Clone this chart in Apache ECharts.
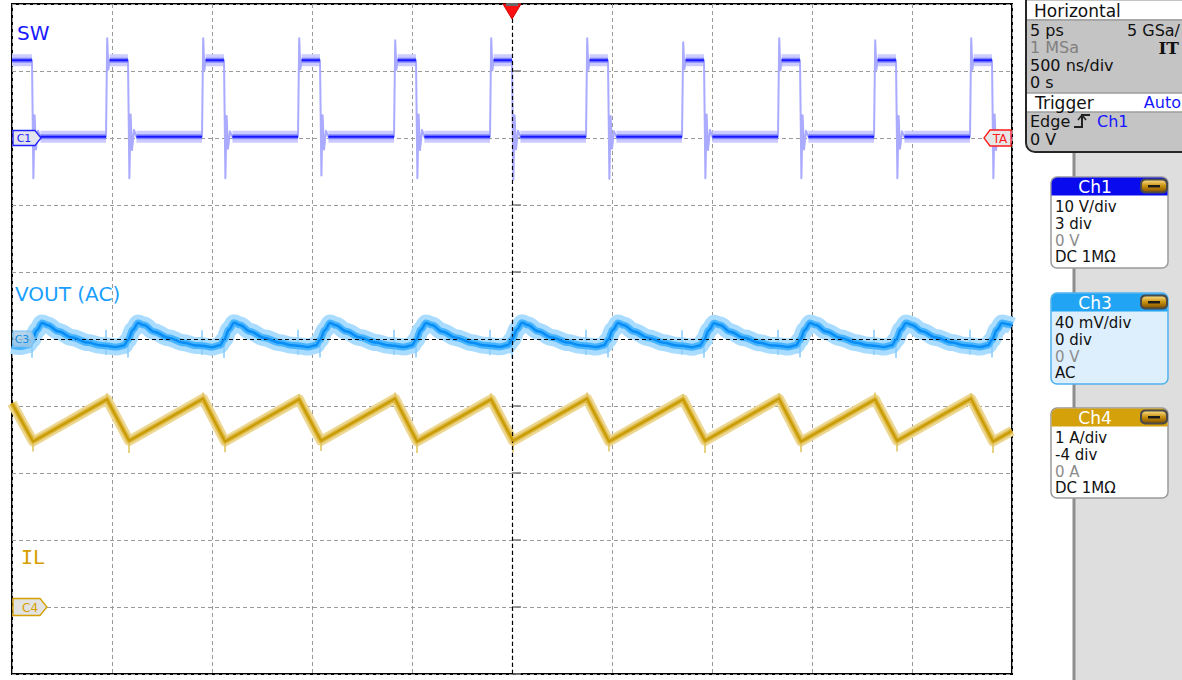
<!DOCTYPE html>
<html>
<head>
<meta charset="utf-8">
<script src="https://cdn.jsdelivr.net/npm/echarts/dist/echarts.min.js"></script>
<style>
html,body{margin:0;padding:0;background:#fff;}
#c{width:1182px;height:680px;}
</style>
</head>
<body>
<div id="c"></div>
<script>
// ================= DATA =================
// Time axis: 500 ns/div, 10 divisions, trigger at 0
const timeMinNs = -2500, timeMaxNs = 2500, timeDivNs = 500;

// Channel scales (value range of the 10-div screen for each channel)
const ch1RangeV  = [-80, 20];    // 10 V/div, offset 3 div
const ch3RangeMv = [-200, 200];  // 40 mV/div, offset 0 div
const ch4RangeA  = [-1, 9];      // 1 A/div, offset -4 div

// SW (Ch1) trace: [time ns, volts]
const swTrace = [
  [-2500,11.6],
  [-2400,11.6],[-2393,-6.0],[-2387,3.4],[-2380,-1.7],[-2370,1.1],[-2358,0.2],
  [-2030,0.2],[-2024,14.9],[-2018,10.2],[-2012,11.6],
  [-1920,11.6],[-1913,-6.0],[-1907,3.5],[-1900,-1.8],[-1890,1.2],[-1878,0.2],
  [-1550,0.2],[-1544,14.9],[-1538,10.1],[-1532,11.6],
  [-1440,11.6],[-1433,-6.0],[-1427,3.3],[-1420,-1.6],[-1410,1.0],[-1398,0.2],
  [-1070,0.2],[-1064,14.9],[-1058,10.3],[-1052,11.6],
  [-960,11.6],[-953,-5.6],[-947,3.4],[-940,-1.7],[-930,1.1],[-918,0.2],
  [-590,0.2],[-584,14.6],[-578,10.2],[-572,11.6],
  [-480,11.6],[-473,-6.0],[-467,3.5],[-460,-1.8],[-450,1.2],[-438,0.2],
  [-110,0.2],[-104,14.9],[-98,10.1],[-92,11.6],
  [0,11.6],[7,-6.2],[13,3.4],[20,-1.7],[30,1.1],[42,0.2],
  [370,0.2],[376,14.9],[382,10.2],[388,11.6],
  [480,11.6],[487,-6.1],[493,3.3],[500,-1.6],[510,1.0],[522,0.2],
  [850,0.2],[856,14.3],[862,10.3],[868,11.6],
  [960,11.6],[967,-6.0],[973,3.5],[980,-1.8],[990,1.2],[1002,0.2],
  [1330,0.2],[1336,14.9],[1342,10.1],[1348,11.6],
  [1440,11.6],[1447,-6.0],[1453,3.4],[1460,-1.7],[1470,1.1],[1482,0.2],
  [1810,0.2],[1816,14.6],[1822,10.2],[1828,11.6],
  [1920,11.6],[1927,-6.0],[1933,3.3],[1940,-1.6],[1950,1.0],[1962,0.2],
  [2290,0.2],[2296,14.9],[2302,10.2],[2308,11.6],
  [2400,11.6],[2407,-6.0],[2413,3.5],[2420,-1.8],[2430,1.2],[2442,0.2],
  [2500,0.2]
];

// VOUT (AC, Ch3) trace: [time ns, millivolts]
const voutTrace = [
  [-2500,-3.8],[-2460,-4.5],[-2420,-3.6],
  [-2400,-0.5],[-2375,5.4],[-2350,9.6],[-2320,8.2],[-2270,4.6],[-2200,0.9],[-2120,-2.1],[-2060,-3.7],
  [-2030,-4.1],[-1980,-4.8],[-1940,-3.9],
  [-1920,-0.6],[-1895,5.5],[-1870,9.5],[-1840,8.3],[-1790,4.4],[-1720,0.8],[-1640,-2.3],[-1580,-3.9],
  [-1550,-4.0],[-1500,-4.9],[-1460,-3.8],
  [-1440,-0.4],[-1415,5.6],[-1390,9.7],[-1360,8.4],[-1310,4.5],[-1240,0.7],[-1160,-2.2],[-1100,-3.8],
  [-1070,-4.0],[-1020,-4.8],[-980,-3.7],
  [-960,-0.5],[-935,5.4],[-910,9.5],[-880,8.2],[-830,4.6],[-760,0.9],[-680,-2.1],[-620,-3.7],
  [-590,-4.1],[-540,-4.8],[-500,-3.8],
  [-480,-0.6],[-455,5.5],[-430,9.6],[-400,8.3],[-350,4.5],[-280,0.8],[-200,-2.2],[-140,-3.8],
  [-110,-4.0],[-60,-4.7],[-20,-3.6],
  [0,-0.3],[25,5.6],[50,9.7],[80,8.4],[130,4.6],[200,0.9],[280,-2.1],[340,-3.7],
  [370,-4.0],[420,-4.8],[460,-3.8],
  [480,-0.5],[505,5.5],[530,9.5],[560,8.2],[610,4.5],[680,0.8],[760,-2.2],[820,-3.8],
  [850,-4.1],[900,-4.9],[940,-3.9],
  [960,-0.6],[985,5.4],[1010,9.4],[1040,8.3],[1090,4.4],[1160,0.7],[1240,-2.3],[1300,-3.9],
  [1330,-4.0],[1380,-4.8],[1420,-3.8],
  [1440,-0.5],[1465,5.5],[1490,9.6],[1520,8.3],[1570,4.5],[1640,0.8],[1720,-2.2],[1780,-3.8],
  [1810,-4.0],[1860,-4.8],[1900,-3.7],
  [1920,-0.4],[1945,5.6],[1970,9.6],[2000,8.4],[2050,4.6],[2120,0.9],[2200,-2.1],[2260,-3.7],
  [2290,-4.0],[2340,-4.8],[2380,-3.8],
  [2400,-0.5],[2425,5.5],[2450,9.6],[2480,8.8],[2500,8.0]
];
// VOUT switching spikes (time ns, top mV, bottom mV)
const voutSpikeNs = [-2400,-2030,-1920,-1550,-1440,-1070,-960,-590,-480,-110,0,370,480,850,960,1330,1440,1810,1920,2290,2400];
const voutSpikeHi = [3.5,5.4,3.6,5.2,3.4,5.5,3.5,5.3,3.6,5.4,3.4,5.5,3.5,5.2,3.6,5.4,3.5,5.3,3.4,5.5,3.5];
const voutSpikeLo = [-11.2,-9.5,-11.0,-9.6,-11.3,-9.4,-11.1,-9.5,-11.0,-9.7,-11.4,-9.5,-11.1,-9.4,-11.2,-9.6,-11.0,-9.5,-11.3,-9.4,-11.1];

// IL (Ch4) trace: [time ns, amps]
const ilTrace = [
  [-2500,3.04],[-2395,2.47],[-2025,3.10],[-1915,2.48],[-1545,3.11],[-1435,2.47],
  [-1065,3.10],[-955,2.48],[-585,3.11],[-475,2.47],[-105,3.10],[5,2.48],
  [375,3.11],[485,2.47],[855,3.10],[965,2.48],[1335,3.11],[1445,2.47],
  [1815,3.10],[1925,2.48],[2295,3.11],[2405,2.47],[2500,2.63]
];
// IL spikes at the corners (time ns, top A, bottom A)
const ilSpikeNs = [-2395,-2025,-1915,-1545,-1435,-1065,-955,-585,-475,-105,5,375,485,855,965,1335,1445,1815,1925,2295,2405];
const ilSpikeHi = [2.56,3.19,2.57,3.20,2.56,3.18,2.57,3.20,2.56,3.19,2.57,3.20,2.56,3.18,2.57,3.19,2.56,3.20,2.57,3.19,2.56];
const ilSpikeLo = [2.32,3.02,2.30,3.03,2.31,3.02,2.33,3.03,2.30,3.02,2.31,3.03,2.32,3.02,2.30,3.03,2.31,3.02,2.32,3.03,2.30];

// Texts
const traceLabels = ['SW', 'VOUT (AC)', 'IL'];
const horizLeft  = ['5 ps', '1 MSa', '500 ns/div', '0 s'];
const horizRight = ['5 GSa/', 'IT'];
const triggerInfo = ['Trigger', 'Auto', 'Edge', 'Ch1', '0 V'];
const ch1Info = ['Ch1', '10 V/div', '3 div', '0 V', 'DC 1M\u03A9'];
const ch3Info = ['Ch3', '40 mV/div', '0 div', '0 V', 'AC'];
const ch4Info = ['Ch4', '1 A/div', '-4 div', '0 A', 'DC 1M\u03A9'];

// ================= CHART =================
const chart = echarts.init(document.getElementById('c'), null, {renderer: 'svg', width: 1182, height: 680});

function plateauSegments(trace) {
  const out = [];
  for (let i = 0; i < trace.length - 1; i++) {
    if (trace[i][1] === trace[i + 1][1]) out.push(trace[i], trace[i + 1], '-');
  }
  return out;
}
function spikeSegments(times, hi, lo) {
  const out = [];
  times.forEach((t, i) => { out.push([t, hi[i]], [t, lo[i]], '-'); });
  return out;
}
function trace(name, yIdx, data, color, width, z, extra) {
  return Object.assign({
    name, type: 'line', xAxisIndex: 0, yAxisIndex: yIdx, data,
    showSymbol: false, symbol: 'none', silent: true, connectNulls: false, z,
    lineStyle: {color, width, cap: 'butt', join: 'round'}
  }, extra || {});
}
const smooth = {smooth: 0.35, smoothMonotone: 'x'};
const swFlat = plateauSegments(swTrace);

const dashGrid = {color: '#9a9a9a', width: 1, type: [4, 3]};

chart.setOption({
  animation: false,
  grid: {left: 12, top: 4, width: 1000, height: 670, show: true, borderColor: '#000', borderWidth: 2, backgroundColor: 'transparent'},
  xAxis: {type: 'value', min: timeMinNs, max: timeMaxNs, interval: timeDivNs,
    axisLine: {show: false}, axisTick: {show: false}, axisLabel: {show: false},
    splitLine: {show: true, lineStyle: dashGrid}},
  yAxis: [
    {type: 'value', min: -5, max: 5, interval: 1, axisLine: {show: false}, axisLabel: {show: false},
      axisTick: {show: true, inside: true, length: 9, lineStyle: {color: '#7a7a7a', width: 1.5}},
      splitLine: {show: true, lineStyle: dashGrid}},
    {type: 'value', min: ch1RangeV[0], max: ch1RangeV[1], show: false, splitLine: {show: false}},
    {type: 'value', min: ch3RangeMv[0], max: ch3RangeMv[1], show: false, splitLine: {show: false}},
    {type: 'value', min: ch4RangeA[0], max: ch4RangeA[1], show: false, splitLine: {show: false}}
  ],
  series: [
    // SW
    trace('SW band', 1, swFlat, '#cbcbff', 12, 2),
    trace('SW edges', 1, swTrace, '#aaaaff', 2, 3),
    trace('SW mid', 1, swFlat, '#8484ff', 5, 4),
    trace('SW', 1, swFlat, '#1818ff', 2, 5),
    // VOUT
    trace('VOUT band', 2, voutTrace, '#a9dcff', 17, 2, smooth),
    trace('VOUT spikes', 2, spikeSegments(voutSpikeNs, voutSpikeHi, voutSpikeLo), '#86ccff', 1.5, 3),
    trace('VOUT mid', 2, voutTrace, '#47b4ff', 7, 4, smooth),
    trace('VOUT (AC)', 2, voutTrace, '#0a8cf5', 2.5, 5, smooth),
    // IL
    trace('IL band', 3, ilTrace, '#ecd690', 10, 2),
    trace('IL spikes', 3, spikeSegments(ilSpikeNs, ilSpikeHi, ilSpikeLo), '#e0c35a', 1.5, 3),
    trace('IL mid', 3, ilTrace, '#dbb63e', 5, 4),
    trace('IL', 3, ilTrace, '#c99a00', 2, 5),
    // center reference lines (black dashed)
    {type: 'line', xAxisIndex: 0, yAxisIndex: 0, data: [[0, 0]], showSymbol: false, symbol: 'none', silent: true, z: 10,
      lineStyle: {opacity: 0},
      markLine: {silent: true, symbol: ['none', 'none'], label: {show: false},
        lineStyle: {color: '#000', width: 1.2, type: [4, 3]},
        data: [{xAxis: 0}, {yAxis: 0}]}}
  ]
});

// pixel positions derived from the axes
const xL = chart.convertToPixel({xAxisIndex: 0}, timeMinNs);
const xR = chart.convertToPixel({xAxisIndex: 0}, timeMaxNs);
const xT = chart.convertToPixel({xAxisIndex: 0}, 0);
const yTop = chart.convertToPixel({yAxisIndex: 0}, 5);
const yC1 = chart.convertToPixel({yAxisIndex: 1}, 0);
const yC3 = chart.convertToPixel({yAxisIndex: 2}, 0);
const yC4 = chart.convertToPixel({yAxisIndex: 3}, 0);

const F = '"DejaVu Sans", Verdana, sans-serif';
function txt(x, y, text, fill, size, align, extra) {
  return Object.assign({type: 'text', x, y, z: 50, silent: true,
    style: {text, fill, font: size + 'px ' + F, textAlign: align || 'left', textVerticalAlign: 'middle', align: align || 'left', verticalAlign: 'middle'}}, extra || {});
}
function poly(points, fill, stroke, lw) {
  return {type: 'polygon', z: 40, silent: true, shape: {points}, style: {fill, stroke, lineWidth: lw || 1.2}};
}
const gold = {type: 'linear', x: 0, y: 0, x2: 0, y2: 1, colorStops: [
  {offset: 0, color: '#f6d77a'}, {offset: 0.5, color: '#c8900e'}, {offset: 1, color: '#8a5800'}]};

function chBox(top, info, headColor, bodyColor, borderColor, h) {
  const x = 1051, w = 117;
  const els = [
    {type: 'rect', z: 30, silent: true, shape: {x, y: top, width: w, height: h, r: 6}, style: {fill: bodyColor, stroke: borderColor, lineWidth: 1.5}},
    {type: 'rect', z: 31, silent: true, shape: {x: x + 0.5, y: top + 0.5, width: w - 1, height: 18, r: [6, 6, 0, 0]}, style: {fill: headColor}},
    txt(1095, top + 9.5, info[0], '#fff', 17, 'center'),
    {type: 'rect', z: 32, silent: true, shape: {x: 1140, y: top + 1.5, width: 28, height: 15, r: 5}, style: {fill: '#4a4a4a'}},
    {type: 'rect', z: 33, silent: true, shape: {x: 1142, y: top + 3.5, width: 24, height: 11, r: 4}, style: {fill: gold}},
    {type: 'rect', z: 34, silent: true, shape: {x: 1148, y: top + 8, width: 12, height: 2.5}, style: {fill: '#1a1a1a'}}
  ];
  const offs = [30, 46.8, 63.6, 80.4];
  for (let i = 1; i < info.length; i++) {
    els.push(txt(1055, top + offs[i - 1], info[i], i === 3 ? '#8c8c8c' : '#111', 15, 'left'));
  }
  return els;
}

const graphic = [
  // side panel
  {type: 'rect', z: 20, silent: true, shape: {x: 1075, y: 0, width: 107, height: 680}, style: {fill: '#dedede'}},
  {type: 'line', z: 21, silent: true, shape: {x1: 1074, y1: 150, x2: 1074, y2: 680}, style: {stroke: '#8e8e8e', lineWidth: 3}},
  // Horizontal / Trigger box
  {type: 'rect', z: 22, silent: true, shape: {x: 1026, y: -12, width: 170, height: 164, r: [0, 0, 0, 9]}, style: {fill: '#c4c4c4', stroke: '#262626', lineWidth: 2}},
  {type: 'rect', z: 23, silent: true, shape: {x: 1027, y: 1, width: 160, height: 18}, style: {fill: '#fff'}},
  {type: 'line', z: 23, silent: true, shape: {x1: 1027, y1: 20, x2: 1182, y2: 20}, style: {stroke: '#8a8a8a', lineWidth: 1}},
  {type: 'rect', z: 23, silent: true, shape: {x: 1027, y: 93.5, width: 160, height: 18}, style: {fill: '#fff'}},
  {type: 'line', z: 23, silent: true, shape: {x1: 1027, y1: 93, x2: 1182, y2: 93}, style: {stroke: '#8a8a8a', lineWidth: 1}},
  {type: 'line', z: 23, silent: true, shape: {x1: 1027, y1: 112, x2: 1182, y2: 112}, style: {stroke: '#8a8a8a', lineWidth: 1}},
  txt(1034, 11, 'Horizontal', '#111', 17, 'left'),
  txt(1030, 30, horizLeft[0], '#111', 16, 'left'),
  txt(1030, 47.5, horizLeft[1], '#808080', 16, 'left'),
  txt(1030, 65, horizLeft[2], '#111', 16, 'left'),
  txt(1030, 82.5, horizLeft[3], '#111', 16, 'left'),
  txt(1180, 30, horizRight[0], '#111', 16, 'right'),
  {type: 'text', x: 1179, y: 48, z: 50, silent: true, style: {text: horizRight[1], fill: '#111', font: 'bold 17px "DejaVu Serif", serif', textAlign: 'right', align: 'right', textVerticalAlign: 'middle', verticalAlign: 'middle'}},
  txt(1035, 102.5, triggerInfo[0], '#111', 17, 'left'),
  txt(1181, 102.5, triggerInfo[1], '#1515ff', 16, 'right'),
  txt(1030, 121.5, triggerInfo[2], '#111', 16, 'left'),
  {type: 'polyline', z: 45, silent: true, shape: {points: [[1074, 127], [1082, 127], [1082, 115], [1090, 115]]}, style: {stroke: '#222', lineWidth: 2, fill: null}},
  {type: 'polyline', z: 45, silent: true, shape: {points: [[1078, 120], [1082, 115], [1086, 120]]}, style: {stroke: '#222', lineWidth: 1.5, fill: null}},
  txt(1097, 121.5, triggerInfo[3], '#1515ff', 16, 'left'),
  txt(1030, 139, triggerInfo[4], '#111', 16, 'left'),
  // channel boxes
  ...chBox(177, ch1Info, '#0a0aee', '#ffffff', '#9a9a9a', 91),
  ...chBox(293, ch3Info, '#22a4f4', '#ddeffc', '#4fb2ee', 91),
  ...chBox(408, ch4Info, '#d4a10a', '#ffffff', '#9a9a9a', 90),
  // trace labels
  txt(17, 33, traceLabels[0], '#1a1aff', 20, 'left'),
  txt(15, 294, traceLabels[1], '#1a9fff', 20, 'left'),
  {type: 'text', x: 21, y: 556.5, z: 50, silent: true, style: {text: traceLabels[2], fill: '#d4a000', font: '20px "DejaVu Sans Mono", monospace', textAlign: 'left', align: 'left', textVerticalAlign: 'middle', verticalAlign: 'middle'}},
  // channel level markers
  poly([[xL + 1, yC1 - 7.5], [xL + 23, yC1 - 7.5], [xL + 29, yC1], [xL + 23, yC1 + 7.5], [xL + 1, yC1 + 7.5]], '#e4e4ee', '#2020ff', 1.3),
  txt(xL + 12, yC1 + 0.5, 'C1', '#2020ff', 11, 'center'),
  poly([[xL + 1, yC3 - 8], [xL + 19, yC3 - 8], [xL + 23, yC3], [xL + 19, yC3 + 8], [xL + 1, yC3 + 8]], 'rgba(170,205,230,0.85)', '#79c2f2', 1.2),
  txt(xL + 10, yC3 + 0.5, 'C3', '#1a8fe0', 11, 'center'),
  poly([[xL + 1, yC4 - 8.5], [xL + 28, yC4 - 8.5], [xL + 35, yC4], [xL + 28, yC4 + 8.5], [xL + 1, yC4 + 8.5]], '#e2e2e2', '#d4a000', 1.3),
  txt(xL + 18, yC4 + 0.5, 'C4', '#d4a000', 12, 'center'),
  poly([[xR - 1, yC1 - 8], [xR - 22, yC1 - 8], [xR - 28, yC1], [xR - 22, yC1 + 8], [xR - 1, yC1 + 8]], '#e6e6e6', '#ff1a1a', 1.3),
  txt(xR - 12, yC1 + 0.5, 'TA', '#ff1a1a', 12, 'center'),
  // trigger position marker
  poly([[xT - 9, yTop], [xT + 9, yTop], [xT, yTop + 15]], '#ff1010', '#d00000', 1),
  {type: 'rect', z: 41, silent: true, shape: {x: xT - 6, y: yTop - 1, width: 12, height: 3}, style: {fill: '#6a6a6a'}}
];
chart.setOption({graphic});
</script>
</body>
</html>
